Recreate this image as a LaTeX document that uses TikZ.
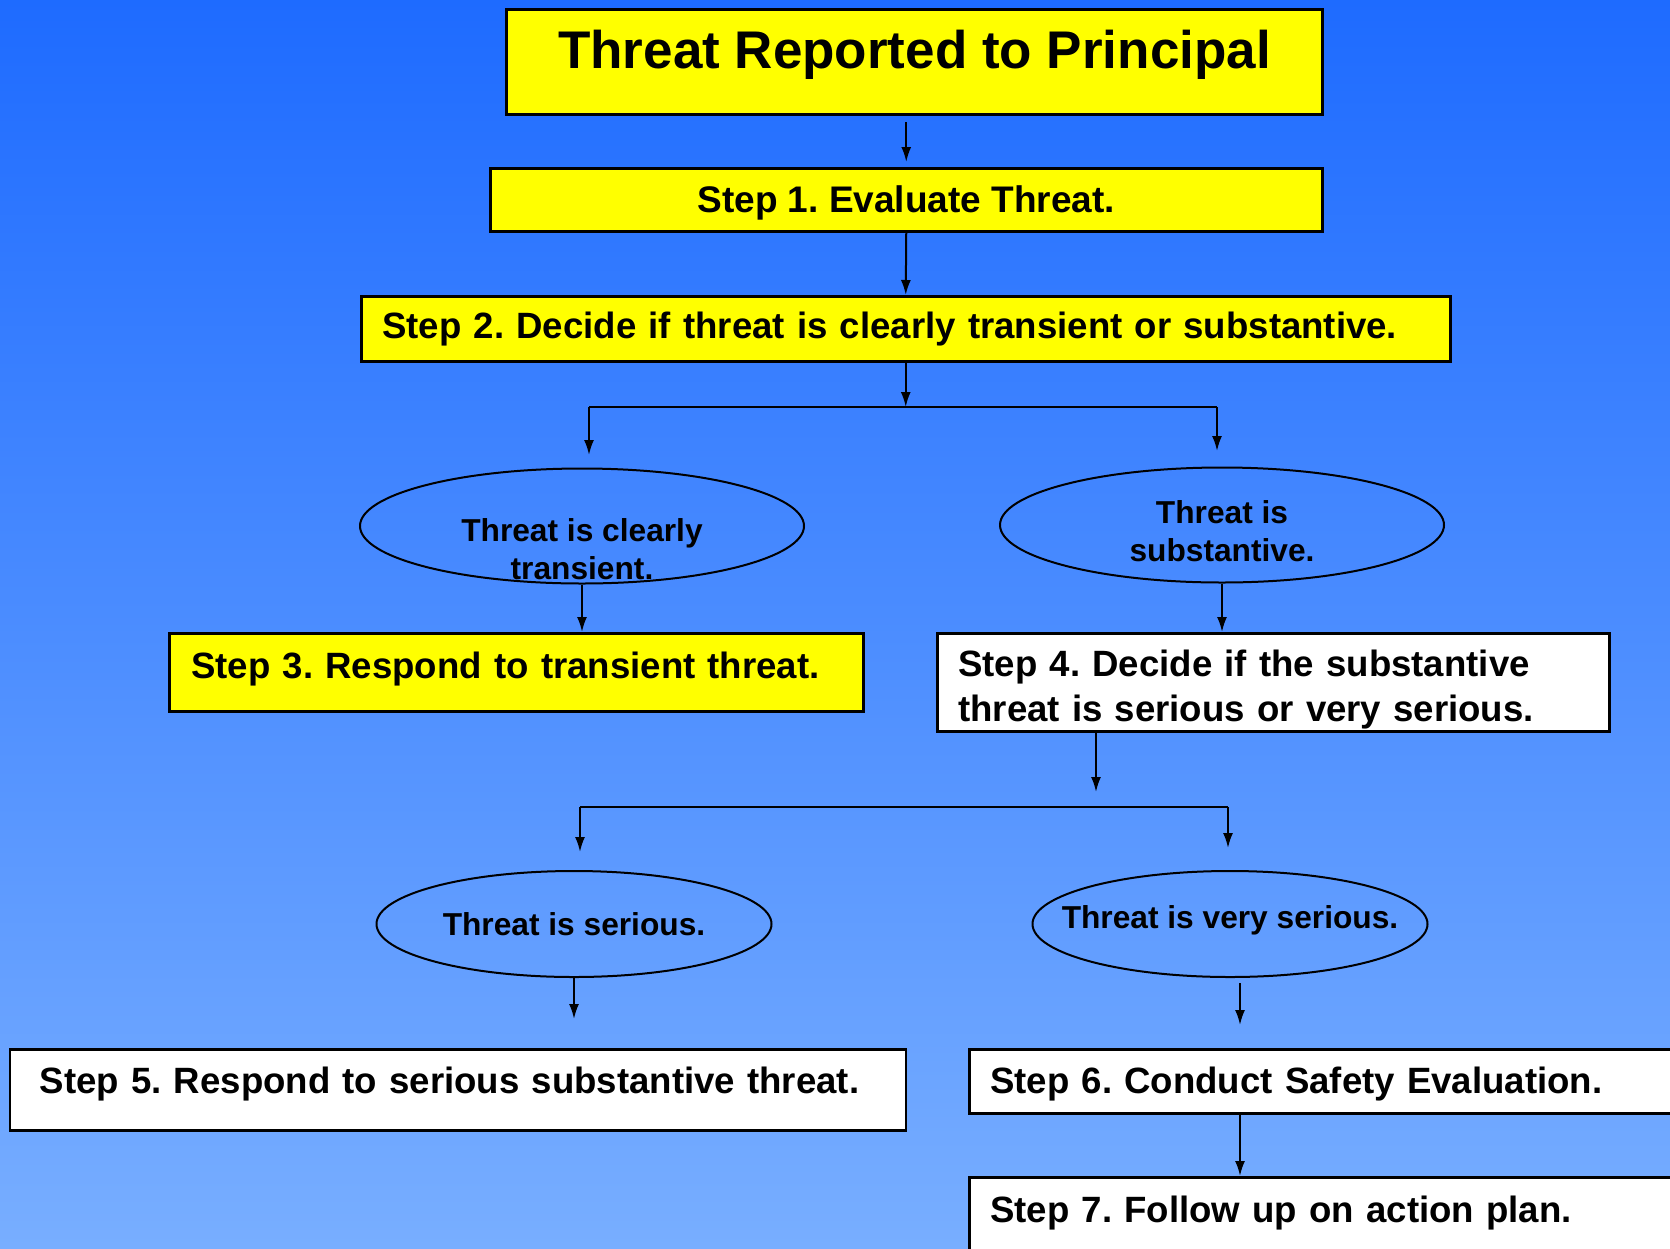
\documentclass[tikz,border=0pt]{standalone}
\usepackage{fontspec}
\setmainfont{Liberation Sans}
\usetikzlibrary{calc,shapes.geometric,arrows.meta}

\definecolor{skytop}{RGB}{30,107,255}
\definecolor{skymid}{RGB}{90,146,255}
\definecolor{skybot}{RGB}{120,174,255}
\definecolor{stepyellow}{RGB}{255,255,0}
\newcommand\nudge[2]{\raisebox{#1}[\height][\depth]{#2}}
\frenchspacing

\begin{document}
\begin{tikzpicture}[x=1pt,y=-1pt,
  stepbox/.style={draw,line width=2.5pt,fill=white,anchor=north west,
    align=left,inner ysep=0pt,font=\fontsize{36.6}{44.7}\selectfont\bfseries},
  hotbox/.style={stepbox,fill=stepyellow},
  case/.style={draw,ellipse,line width=2pt,inner sep=0pt,
    minimum width=444pt,minimum height=115pt,
    font=\fontsize{31.7}{38}\selectfont\bfseries},
  smallcase/.style={case,minimum width=395pt,minimum height=106pt},
  ]
  \useasboundingbox (0,0) rectangle (1670,1248);
  \shade[top color=skytop,middle color=skymid,bottom color=skybot]
    (0,0) rectangle (1670,1248);

  \node[hotbox,line width=3pt,align=center,minimum width=816pt,minimum height=105.5pt,
    font=\fontsize{53}{60}\selectfont\bfseries] (title) at (505,7.5)
    {\nudge{7pt}{Threat Reported to Principal}};
  \node[hotbox,align=center,minimum width=832pt,minimum height=63pt,
    font=\fontsize{37}{44.7}\selectfont\bfseries] (step1) at (489,167)
    {\nudge{-3pt}{Step 1. Evaluate Threat.}};
  \node[hotbox,text width=1047pt,inner xsep=21pt,minimum height=65pt] (step2) at (360,295)
    {Step 2. Decide if threat is clearly transient or substantive.};

  \node[case] (transient) at (582,526)
    {\nudge{-27pt}{\begin{tabular}{@{}c@{}}Threat is clearly\\transient.\end{tabular}}};
  \node[case] (substantive) at (1222,525)
    {\nudge{-10pt}{\begin{tabular}{@{}c@{}}Threat is\\substantive.\end{tabular}}};

  \node[hotbox,text width=650pt,inner xsep=22pt,minimum height=78pt] (step3) at (168,632)
    {\nudge{3pt}{Step 3. Respond to transient threat.}};
  \node[stepbox,text width=630pt,inner xsep=21pt,minimum height=98pt] (step4) at (936,632)
    {\nudge{-8pt}{\begin{tabular}{@{}l@{}}Step 4. Decide if the substantive\\
      threat is serious or very serious.\end{tabular}}};

  \node[smallcase] (serious) at (574,924) {\makebox[0pt]{Threat is serious.}};
  \node[smallcase] (veryserious) at (1230,924)
    {\nudge{4pt}{\makebox[0pt]{Threat is very serious.}}};

  \node[stepbox,text width=836pt,inner xsep=30pt,minimum height=81pt] (step5) at (8.5,1048)
    {\nudge{6pt}{Step 5. Respond to serious substantive threat.}};
  \node[stepbox,text width=690pt,inner xsep=21pt,minimum height=64pt] (step6) at (968,1048)
    {\nudge{-3pt}{Step 6. Conduct Safety Evaluation.}};
  \node[stepbox,text width=690pt,inner xsep=21pt,minimum height=100pt] (step7) at (968,1176)
    {\nudge{14pt}{Step 7. Follow up on action plan.}};

  \coordinate (forkL1) at (589,407);
  \coordinate (forkR1) at (1217,407);
  \coordinate (split1) at (step2.south |- forkL1);
  \coordinate (split2) at (1096,807);
  \coordinate (forkL2) at (580,807);
  \coordinate (forkR2) at (1228,807);
  \coordinate (drop6)  at (1240,1048);

  \draw[line width=2pt] (forkL1) -- (forkR1);
  \draw[line width=2pt] (forkL2) -- (forkR2);
  \begin{scope}[
    every edge/.style={draw,line width=2pt,->,>={Latex[length=15pt,width=10pt]}},
    ]
    \path
    (title.south -| step1.north) edge[shorten <=6pt,shorten >=5pt] (step1.north)
    (step1.south)                edge                              (step2.north)
    (step2.south)                edge                              (split1)
    (forkL1)                     edge[shorten >=12.5pt]            (forkL1 |- transient.north)
    (forkR1)                     edge[shorten >=15.5pt]            (forkR1 |- substantive.north)
    (transient.south)            edge                              (transient.south |- step3.north)
    (substantive.south)          edge                              (substantive.south |- step4.north)
    (step4.south -| split2)      edge[shorten >=15pt]              (split2)
    (forkL2)                     edge[shorten >=18pt]              (forkL2 |- serious.north)
    (forkR2)                     edge[shorten >=22pt]              (forkR2 |- veryserious.north)
    (serious.south)              edge[shorten >=29pt]              (serious.south |- step5.north)
    (drop6 |- veryserious.south) edge[shorten <=5pt,shorten >=23pt] (drop6)
    (drop6 |- step6.south)       edge                              (drop6 |- step7.north);
  \end{scope}
\end{tikzpicture}
\end{document}
